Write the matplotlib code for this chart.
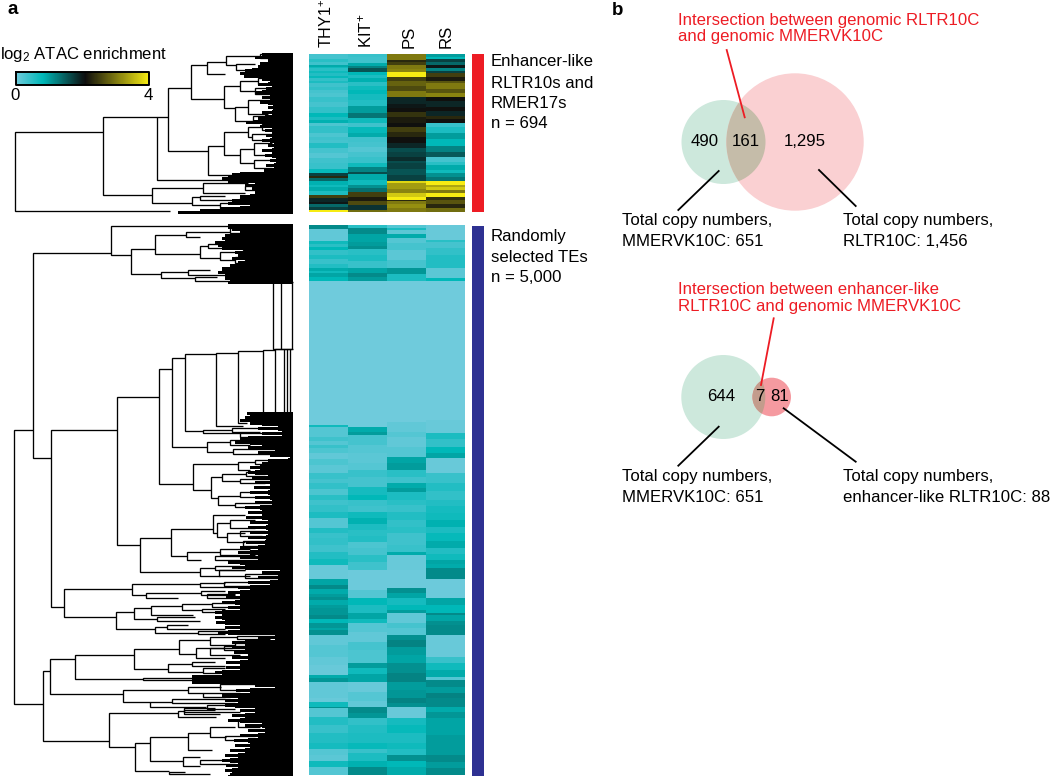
import numpy as np
import matplotlib
matplotlib.use("Agg")
import matplotlib.pyplot as plt
from matplotlib.colors import LinearSegmentedColormap
from matplotlib.patches import Circle

plt.rcParams['font.family'] = ['Liberation Sans', 'DejaVu Sans']
plt.rcParams['mathtext.fontset'] = 'custom'
plt.rcParams['mathtext.rm'] = 'Liberation Sans'
plt.rcParams['mathtext.default'] = 'regular'

# ---------- data ----------
samples = ['THY1$^{+}$', 'KIT$^{+}$', 'PS', 'RS']

# heat map columns as (end row of band, log2 value)
thy1_top = [(16,.3),(24,.5),(33,.35),(38,.9),(43,.7),(52,.5),(58,.7),(66,.55),(73,.75),(80,.45),(88,.6),(100,.35),(108,.45),(118,.3),(130,.25),(145,.4),(160,.3),(178,.45),(188,.8),(198,.6),(206,.85),(216,.25),(238,.45),(248,.25),(258,.35),(268,.3),(282,.55),(298,.3),(312,.2),(328,.35),(345,.4),(358,.75),(366,1.7),(372,2.3),(380,1.4),(392,.85),(398,.7),(410,.9),(423,.6),(433,2.5),(443,1.9),(450,2.0),(460,1.4),(468,1.7),(474,4)]
kit_top = [(10,.4),(28,.35),(36,.9),(43,1.2),(53,1.55),(64,.8),(72,.6),(83,.85),(95,.5),(108,.7),(120,.8),(138,.65),(155,.55),(178,1.0),(193,1.3),(206,.7),(220,.35),(238,.75),(250,.9),(263,.35),(278,.3),(293,.2),(308,.3),(328,.4),(340,.7),(353,1.2),(360,1.6),(378,.9),(393,.7),(403,1.1),(413,1.35),(428,2.5),(440,2.2),(453,2.6),(468,1.8),(474,2.9)]
ps_top = [(18,3.0),(25,2.3),(33,2.5),(45,3.0),(53,3.1),(70,4),(80,2.5),(95,2.8),(110,2.6),(128,3.0),(150,1.9),(163,2.0),(175,2.1),(190,2.4),(208,2.2),(220,2.1),(233,2.5),(250,2.3),(268,2.1),(283,1.9),(295,1.6),(308,1.7),(320,1.85),(328,1.6),(345,1.7),(362,1.55),(380,1.7),(388,3.8),(405,3.3),(418,3.1),(428,3.7),(438,4),(442,2.3),(450,3.0),(462,3.2),(474,3.0)]
rs_top = [(10,1.0),(16,.8),(24,1.7),(33,1.4),(43,2.0),(52,1.2),(58,1.7),(70,2.5),(80,2.2),(88,2.7),(104,3.0),(116,2.7),(128,3.1),(140,2.1),(158,1.9),(170,2.1),(185,1.9),(196,2.3),(206,2.1),(220,.4),(238,.6),(255,1.0),(275,.8),(295,1.2),(308,1.5),(325,.3),(333,.5),(348,.9),(358,.7),(368,1.1),(380,1.3),(392,4),(398,3.4),(408,3.7),(418,3.0),(428,4),(438,2.4),(450,2.7),(462,2.3),(474,2.9)]

thy1_bot = [(4,1.15),(16,.1),(19,.7),(22,.5),(25,.8),(30,.45),(34,.6),(39,.4),(43,.55),(46,.9),(48,.7),(52,.95),(56,.8),(200,0),(202,.7),(212,.2),(216,.35),(220,.2),(223,.4),(228,.25),(234,.1),(240,.25),(248,.15),(254,.4),(258,.3),(264,.45),(270,.25),(275,.5),(280,.35),(287,.45),(293,.6),(303,.2),(308,.55),(313,.4),(320,.45),(327,.35),(334,.55),(340,.7),(354,.05),(360,.95),(364,1.15),(369,.9),(372,1.0),(375,1.1),(380,.9),(383,1.0),(390,1.05),(394,1.15),(398,.8),(403,1.05),(405,.95),(410,1.1),(420,.1),(432,.2),(440,.1),(450,.05),(453,.9),(457,1.05),(473,.1),(477,.05),(482,.7),(483,1.1),(492,.2),(500,.55),(508,.4),(518,.55),(524,.65),(530,.2),(536,.15),(542,.7),(550,.2)]
kit_bot = [(3,.5),(9,1.15),(17,.95),(21,1.0),(24,1.1),(30,.5),(36,.6),(43,.4),(48,.95),(52,1.15),(56,1.0),(202,0),(207,.9),(210,1.0),(220,.3),(228,.2),(238,.15),(245,.2),(252,.4),(262,.3),(270,.65),(275,.8),(281,.4),(287,.35),(293,.7),(299,.85),(305,.6),(311,.5),(317,.55),(323,.25),(330,.3),(337,.5),(345,.35),(365,.02),(373,.2),(380,.8),(388,.6),(394,.95),(398,.7),(407,.2),(417,.1),(425,.3),(438,.25),(443,1.0),(449,.7),(457,.95),(467,.05),(476,.2),(482,.1),(488,1.15),(493,1.05),(500,.45),(508,.55),(518,.6),(524,.75),(528,.4),(536,.6),(542,.85),(550,1.15)]
ps_bot = [(3,.2),(5,.6),(9,.15),(13,.9),(18,.2),(25,.3),(35,.15),(43,.3),(49,1.05),(56,.6),(197,0),(201,.1),(207,.1),(212,.2),(222,.1),(232,.2),(238,.95),(245,1.0),(252,.5),(258,.35),(263,.9),(267,1.0),(275,.6),(280,.5),(287,.4),(295,.55),(302,.45),(308,.5),(320,.35),(327,.4),(330,.9),(345,.05),(363,.02),(368,1.1),(373,.95),(380,.65),(385,.8),(388,1.0),(398,.1),(403,.3),(410,.2),(415,1.1),(422,1.2),(430,1.0),(438,.95),(448,1.1),(457,1.2),(465,1.0),(473,1.05),(478,1.2),(482,1.1),(493,.05),(500,.65),(508,.75),(518,.6),(524,.7),(530,.55),(536,1.1),(542,.8),(550,.9)]
rs_bot = [(15,.05),(17,.5),(23,.3),(30,.45),(43,.55),(53,.15),(56,.8),(195,0),(208,.05),(214,.6),(222,.45),(228,.8),(233,.95),(248,.05),(258,.4),(266,.55),(275,.45),(281,.55),(288,.65),(295,.7),(302,.85),(308,.6),(316,.75),(323,.9),(329,.55),(335,.7),(339,.95),(343,.9),(354,1.15),(373,.03),(380,.95),(388,.8),(390,1.15),(396,.95),(400,1.1),(410,1.15),(432,.05),(438,.4),(445,.7),(452,.9),(455,.2),(462,1.15),(468,1.0),(473,1.2),(482,1.15),(487,.9),(493,1.05),(510,.95),(530,1.0),(537,1.15),(543,1.0),(550,1.15)]

cbar_min, cbar_max = 0, 4

# dendrogram clades: (height, top leaf, bottom leaf, top child height, bottom child height)
top_clades = [(15,132,211,103,170),(103,117,195,157,152),(157,117,180,168,228),(168,88,151,191,208),(191,65,99,207,224),(207,62,74,226,225),(226,56,65,260,236),(236,64,70,255,247),(224,86,108,240,235),(240,81,91,258,255),(235,107,121,248,253),(248,100,114,272,268),(208,146,175,224,238),(224,132,155,248,240),(248,127,137,262,252),(240,149,163,254,254),(254,143,155,272,272),(254,160,168,270,272),(238,174,178,262,250),(152,188,203,203,192),(203,183,193,248,245),(192,197,205,200,220),(200,196,200,225,240),(220,203,208,245,255),
              (260,54,58,272,272),(258,78,84,272,270),(255,88,94,272,270),(253,116,121,272,268),(262,124,130,276,272),(252,134,140,272,272),(245,186,190,260,262),(240,198,202,262,255)]
bot_clades_a = [(14,430,704,33,43),(33,253,458,111,51),(111,226,255,230,131),(131,249,274,155,161),(155,235,254,186,200),(186,232,237,230,200),(200,246,258,208,220),(220,252,260,243,235),(235,257,263,262,245),(161,272,278,188,195),(188,270,275,210,225),(195,277,281,217,230),(230,228,233,262,268),(208,244,248,232,248),(243,250,254,262,258),(245,260,264,265,268)]
bot_clades_b = [(51,430,607,117,64),(117,397,545,159,140),(159,369,484,172,193),(172,358,447,185,207),(185,354,431,216,203),(216,353,426,238,243),(238,351,423,263,247),(263,350,420,275,277),(275,349,419,284,277),(273,282,349,281,281),(281,282,349,292,292),(292,282,349,293,293),(284,349,414,287,287),(287,349,413,290,290),(290,349,413,292,292),(203,430,433,232,240),(207,442,452,230,233),(193,464,490,238,211),(238,462,470,255,250),(211,477,498,222,218),(222,474,481,246,240),(218,496,505,240,235),
                (232,428,432,265,260),(240,433,437,285,270),(230,440,445,258,250),(233,449,454,285,270),(255,460,464,290,285),(246,472,476,270,265),(240,479,483,272,265),(240,492,497,272,268),(235,503,507,275,260)]
bot_clades_c = [(140,538,572,171,200),(171,529,556,213,187),(213,515,533,245,217),(217,523,537,230,227),(230,520,528,255,255),(227,533,542,245,245),(187,552,560,220,201),(200,568,576,215,220),(64,589,617,132,116),(132,584,595,200,146),(200,583,587,225,240),(146,593,598,201,178),(116,612,629,134,155),(134,608,619,151,157),(151,606,615,182,193),(157,617,621,195,200),(155,627,633,167,198),
                (240,531,536,265,262),(243,541,546,268,262),(220,549,555,250,255),(215,556,560,258,262),(215,566,570,240,245),(219,570,576,245,250),(245,574,578,282,280),(224,582,586,250,262),(201,591,595,225,235),(207,594,598,235,240),(182,604,610,212,202),(212,603,607,240,243),(202,609,612,225,230),(167,625,629,188,225),(198,631,634,235,225)]
bot_clades_d = [(43,671,741,50,109),(50,659,694,75,123),(75,655,679,134,143),(143,678,680,193,193),(134,649,669,179,168),(179,640,654,210,196),(196,648,658,232,225),(168,664,672,192,203),(123,690,702,188,150),(188,687,693,221,203),(150,702,707,172,206),(109,713,747,178,135),(178,711,717,184,216),(184,710,714,215,220),(135,743,771,150,169),(150,737,761,188,183),(188,733,750,210,212),(210,727,737,235,226),(183,757,766,200,200),(169,772,774,185,210),
                (210,637,645,237,235),(237,636,639,275,270),(235,643,647,248,250),(210,648,655,224,240),(224,646,650,262,250),(192,662,666,215,225),(203,668,673,225,220),(220,684,690,265,255),(203,693,697,240,230),(172,699,703,225,235),(207,705,709,240,235),(184,708,712,215,240),(238,720,727,265,260),(225,736,740,255,245),(200,760,764,230,235)]

# leaf mass: row, tip of the white gaps, left edge of the solid rows
mass_a_y = [54,57,60,63,66,70,73,76,79,84,88,92,97,102,107,112,118,122,126,130,135,140,145,150,155,160,165,170,174,178,181,185,188,192,196,200,203,207,208,210,212]
mass_a_tip = [270,262,272,268,265,252,248,250,270,268,272,262,270,268,273,272,265,254,268,272,272,270,274,272,272,276,274,272,240,228,233,255,260,262,250,240,236,250,225,205,180]
mass_a_solid = [262,255,268,260,258,245,240,244,262,258,266,255,262,260,268,262,258,246,260,265,266,262,268,262,265,270,266,264,232,222,228,245,252,255,240,232,228,240,220,200,178]
mass_b_y = [225,227,229,232,235,238,242,245,248,252,255,258,262,265,268,272,275,278,282]
mass_b_tip = [230,230,260,270,240,248,225,228,248,262,260,255,265,265,240,222,230,228,230]
mass_b_solid = [228,228,232,240,225,222,215,218,222,235,238,232,238,230,222,218,225,225,228]
mass_c_y = [413,417,420,423,428,433,438,442,447,452,455,460,463,467,472,477,482,487,492,497,502,507,512,517,522,527,532,537,542,547,552,557,562,567,572,577,582,587,592,597,602,607,612,617,622,627,632,637,642,647,652,657,662,667,672,677,682,685,690,695,700,705,710,715,720,725,730,735,740,745,750,755,760,765,770,776]
mass_c_tip = [250,250,245,262,278,282,248,250,262,275,290,288,285,260,255,268,270,270,268,270,272,260,262,262,268,266,268,266,265,258,250,258,240,245,280,278,270,250,240,240,235,240,222,222,225,240,228,275,245,245,248,248,240,240,222,192,192,275,250,230,238,235,255,245,240,262,265,258,248,250,245,238,230,238,232,230]
mass_c_solid = [247,245,240,250,258,262,240,235,248,258,270,268,262,250,248,252,255,254,250,255,255,245,248,246,250,248,250,248,246,240,238,240,228,232,262,258,248,238,228,226,222,228,215,215,216,225,218,258,232,232,234,232,226,226,215,192,192,255,236,222,225,225,240,232,228,245,248,240,234,235,230,225,222,226,225,228]

venn_top = ['490', '161', '1,295']
venn_bottom = ['644', '7', '81']

# ---------- figure ----------
fig = plt.figure(figsize=(10.5, 7.76), dpi=100)
ax = fig.add_axes([0, 0, 1, 1])
ax.axis('off')

cmap = LinearSegmentedColormap.from_list(
    'atac', [(0, '#6FCBDC'), (.2, '#00B8B8'), (.52, '#0E0E0E'), (1, '#F7EC13')])


def band_matrix(cols):
    out = []
    for bands in cols:
        ends, vals = zip(*bands)
        out.append(np.repeat(vals, np.diff((0,) + ends)))
    return np.column_stack(out)


top = band_matrix([thy1_top, kit_top, ps_top, rs_top])
bot = band_matrix([thy1_bot, kit_bot, ps_bot, rs_bot])
kw = dict(cmap=cmap, vmin=cbar_min, vmax=cbar_max, aspect='auto', interpolation='nearest')
ax.imshow(top, extent=(309, 465, 212, 54), **kw)
ax.imshow(bot, extent=(309, 465, 775, 225), **kw)

# colour bar
ax.imshow(np.linspace(cbar_min, cbar_max, 256)[None, :],
          extent=(15.5, 148.5, 85, 72), **kw)
ax.plot([15.5, 148.5, 148.5, 15.5, 15.5], [72, 72, 85, 85, 72], color='black', lw=1.4)


def tree(clades):
    for h, t, b, ct, cb in clades:
        ax.plot([ct, h, h, cb], [t, t, b, b], color='black', lw=0.95,
                solid_joinstyle='miter', solid_capstyle='butt')


for cl in (top_clades, bot_clades_a, bot_clades_b, bot_clades_c, bot_clades_d):
    tree(cl)
for my, tip, solid in ((mass_a_y, mass_a_tip, mass_a_solid),
                       (mass_b_y, mass_b_tip, mass_b_solid),
                       (mass_c_y, mass_c_tip, mass_c_solid)):
    ax.fill_betweenx(my, tip, 292.7, step='mid', color='black', lw=0)
    ax.barh(my, [292.7 - s for s in solid], left=solid, height=3.0, color='black', lw=0)

# side bars
ax.bar(478, 157.7, width=12.6, bottom=54, color='#ED1C24')
ax.bar(478, 550, width=12.6, bottom=226, color='#2E3192')

FS = 12.1
for s, x, fs in zip(samples, (327, 365.7, 409, 445.7), (11.6, FS, FS, FS)):
    ax.text(x, 47.5, s, rotation=90, ha='center', va='bottom', fontsize=fs)

ax.text(0.5, 55, 'log$_{2}$ ATAC enrichment', fontsize=12, ha='left', va='center')
ax.text(15, 95, str(cbar_min), fontsize=FS, ha='center', va='center')
ax.text(148, 95, str(cbar_max), fontsize=FS, ha='center', va='center')
ax.text(7, 14, 'a', fontsize=13.5, fontweight='bold', ha='left', va='baseline')
ax.text(612, 15, 'b', fontsize=13.5, fontweight='bold', ha='left', va='baseline')

for s, y in zip(['Enhancer-like', 'RLTR10s and', 'RMER17s', 'n = 694'], (62, 83, 103, 123)):
    ax.text(491, y, s, fontsize=FS, va='center')
for s, y in zip(['Randomly', 'selected TEs', 'n = 5,000'], (236, 257, 278)):
    ax.text(491, y, s, fontsize=FS, va='center')


# Venn diagrams
def venn(cy, gx, gr, px, pr, pc, oc):
    ax.add_patch(Circle((gx, cy), gr, fc='#CDE8DC', ec='none'))
    ax.add_patch(Circle((px, cy), pr, fc=pc, ec='none'))
    o = Circle((gx, cy), gr, fc=oc, ec='none')
    ax.add_patch(o)
    o.set_clip_path(Circle((px, cy), pr, transform=ax.transData))


venn(142, 723.5, 42, 795, 68.7, '#FAD0D2', '#C5BCA9')
venn(397, 723.3, 42, 771.7, 19.3, '#F59AA0', '#C39C8C')

for (x0, y0, x1, y1), c in [((726.7, 50, 744.7, 117.3), '#ED1C24'),
                            ((718.7, 171, 678.3, 210), 'black'),
                            ((819, 170, 855.7, 206), 'black'),
                            ((773.7, 318.3, 761, 385), '#ED1C24'),
                            ((718.7, 426.7, 678.3, 465.7), 'black'),
                            ((783.7, 408.3, 855.7, 461.7), 'black')]:
    ax.plot([x0, x1], [y0, y1], color=c, lw=1.3, zorder=4)

for s, x in zip(venn_top, (704.5, 746, 805)):
    ax.text(x, 141.7, s, fontsize=FS, ha='center', va='center', zorder=5)
for s, x in zip(venn_bottom, (721, 760, 780)):
    ax.text(x, 396.7, s, fontsize=FS, ha='center', va='center', zorder=5)

red = '#ED1C24'
ax.text(678, 20, 'Intersection between genomic RLTR10C', color=red, fontsize=FS, va='center')
ax.text(678, 37, 'and genomic MMERVK10C', color=red, fontsize=FS, va='center')
ax.text(678, 290, 'Intersection between enhancer-like', color=red, fontsize=FS, va='center')
ax.text(678, 307, 'RLTR10C and genomic MMERVK10C', color=red, fontsize=FS, va='center')

for x, y, s in [(622.5, 221, 'Total copy numbers,'), (622.5, 241, 'MMERVK10C: 651'),
                (842.7, 221, 'Total copy numbers,'), (842.7, 241, 'RLTR10C: 1,456'),
                (622.5, 477, 'Total copy numbers,'), (622.5, 497, 'MMERVK10C: 651'),
                (842.7, 477, 'Total copy numbers,'), (842.7, 497, 'enhancer-like RLTR10C: 88')]:
    ax.text(x, y, s, fontsize=FS, va='center')

ax.set_xlim(0, 1050)
ax.set_ylim(776, 0)
fig.savefig('out.png', dpi=100)
